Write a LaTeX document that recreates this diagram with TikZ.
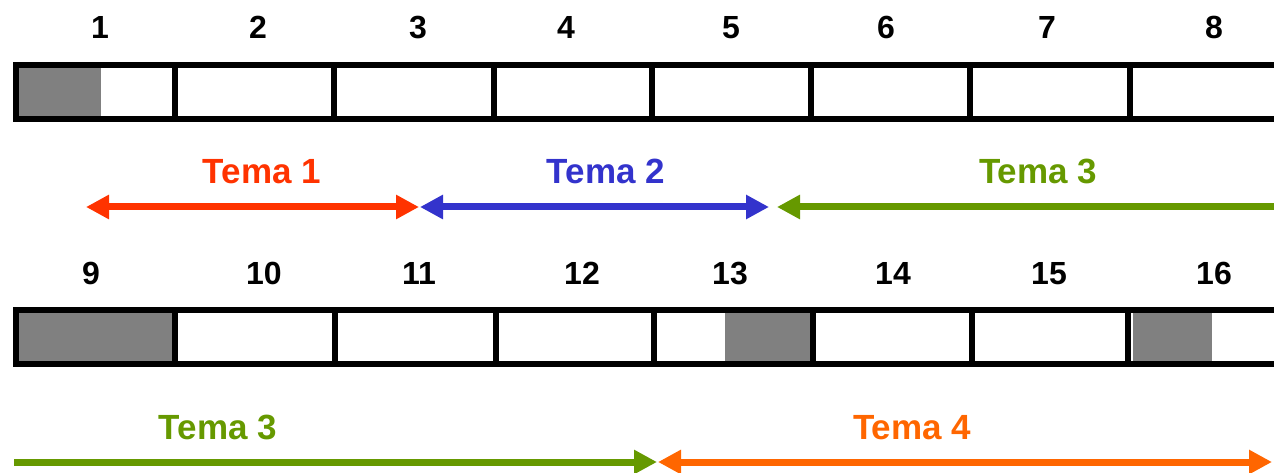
\documentclass[tikz,border=0pt]{standalone}
\usepackage{fontspec}
\setmainfont{Liberation Sans}
\usetikzlibrary{arrows.meta}

\definecolor{temared}{HTML}{FF3300}
\definecolor{temablue}{HTML}{3333CC}
\definecolor{temagreen}{HTML}{669900}
\definecolor{temaorange}{HTML}{FF6600}
\definecolor{slotgray}{HTML}{808080}

\begin{document}
\begin{tikzpicture}[x=1pt,y=-1pt,
  frame/.style={line width=6pt, black},
  slot/.style={fill=slotgray, draw=none},
  num/.style={anchor=base, inner sep=0pt, font=\fontsize{32}{38}\selectfont\bfseries},
  tema/.style={anchor=base, inner sep=0pt, font=\fontsize{35}{42}\selectfont\bfseries},
  span/.style={line width=7pt, arrows={-}, >={Triangle[length=23pt,width=23pt]}}
]
\useasboundingbox (0,0) rectangle (1274,473);

% ---- first row of cells ----
\fill[slot] (19,68) rectangle (101,116);
\draw[frame] (1274,65) -- (16,65) -- (16,119) -- (1274,119);
\foreach \x in {175,334,494,652,811,970,1130}
  \draw[frame] (\x,65) -- (\x,119);

\node[num] (n1) at (100,39) {1};
\node[num] (n2) at (258,39) {2};
\node[num] (n3) at (418,39) {3};
\node[num] (n4) at (566,39) {4};
\node[num] (n5) at (731,39) {5};
\node[num] (n6) at (886,39) {6};
\node[num] (n7) at (1047,39) {7};
\node[num] (n8) at (1214,39) {8};

% ---- topics over the first row ----
\node[tema, text=temared]   (t1)  at (262,184) {Tema 1};
\node[tema, text=temablue]  (t2)  at (606,184) {Tema 2};
\node[tema, text=temagreen] (t3a) at (1038,184) {Tema 3};

\coordinate (r1a) at (86,207);
\coordinate (r1b) at (419,207);
\coordinate (b1a) at (420,207);
\coordinate (b1b) at (769,207);
\coordinate (g1a) at (777,207);
\coordinate (g1b) at (1274,207);
\draw[span, temared, <->] (r1a) -- (r1b);
\draw[span, temablue, <->] (b1a) -- (b1b);
\draw[span, temagreen, <-] (g1a) -- (g1b);

% ---- second row of cells ----
\fill[slot] (19,313) rectangle (172,361);
\fill[slot] (725,313) rectangle (810,361);
\fill[slot] (1133,313) rectangle (1212,361);
\draw[frame] (1274,310) -- (16,310) -- (16,364) -- (1274,364);
\foreach \x in {175,335,496,654,813,972,1128}
  \draw[frame] (\x,310) -- (\x,364);

\node[num] (n9)  at (91,284) {9};
\node[num] (n10) at (264,284) {10};
\node[num] (n11) at (419,284) {11};
\node[num] (n12) at (582,284) {12};
\node[num] (n13) at (730,284) {13};
\node[num] (n14) at (893,284) {14};
\node[num] (n15) at (1049,284) {15};
\node[num] (n16) at (1214,284) {16};

% ---- topics over the second row ----
\node[tema, text=temagreen]  (t3b) at (218,439) {Tema 3};
\node[tema, text=temaorange] (t4)  at (912,439) {Tema 4};

\coordinate (g2a) at (14,462);
\coordinate (g2b) at (657,462);
\coordinate (o2a) at (658,462);
\coordinate (o2b) at (1272,462);
\draw[span, temagreen, ->] (g2a) -- (g2b);
\draw[span, temaorange, <->] (o2a) -- (o2b);
\end{tikzpicture}
\end{document}
